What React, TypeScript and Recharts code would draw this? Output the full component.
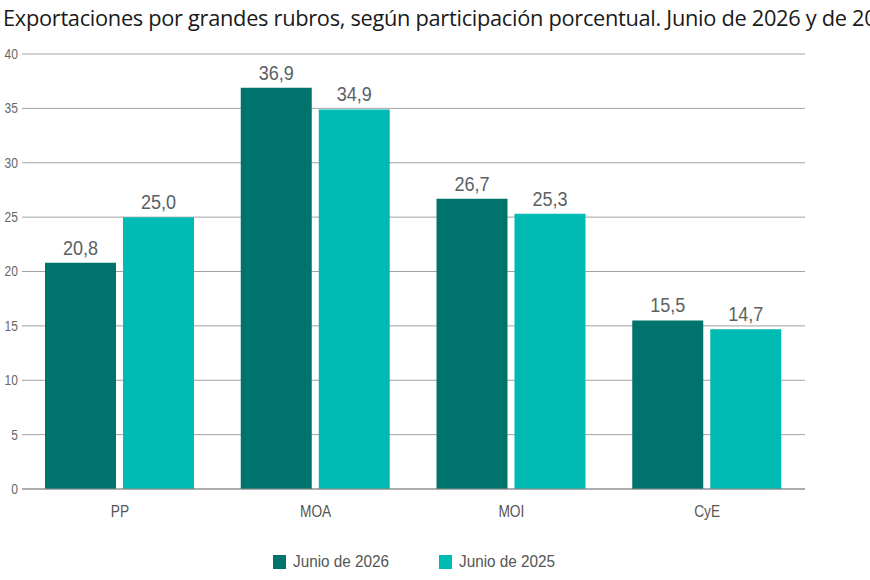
import React from 'react';
import { BarChart, Bar, XAxis, YAxis, CartesianGrid, LabelList } from 'recharts';

const categories = ['PP', 'MOA', 'MOI', 'CyE'];
const junio2026 = [20.8, 36.9, 26.7, 15.5];
const junio2025 = [25.0, 34.9, 25.3, 14.7];
const yTicks = [0, 5, 10, 15, 20, 25, 30, 35, 40];

const SERIES = [
  { key: 'y2026', name: 'Junio de 2026', color: '#00746C' },
  { key: 'y2025', name: 'Junio de 2025', color: '#00BBB4' },
];

const data = categories.map((c, i) => ({ cat: c, y2026: junio2026[i], y2025: junio2025[i] }));

// Arial-Narrow look: Liberation Sans squeezed horizontally
const BASE = "'Liberation Sans', Arial, sans-serif";
const SQUEEZE = 0.86;
const fmt = (v: number) => v.toFixed(1).replace('.', ',');

const NarrowText = ({ x, y, anchor, size, fill, children, dy = 0 }: any) => (
  <text
    x={0}
    y={0}
    dy={dy}
    textAnchor={anchor}
    fontFamily={BASE}
    fontSize={size}
    fill={fill}
    transform={`translate(${x},${y}) scale(${SQUEEZE},1)`}
  >
    {children}
  </text>
);

const YTick = ({ x, y, payload }: any) => (
  <NarrowText x={x} y={y} anchor="end" size={14} fill="#666" dy="0.35em">{payload.value}</NarrowText>
);

const XTick = ({ x, y, payload }: any) => (
  <NarrowText x={x} y={y} anchor="middle" size={16} fill="#555" dy="0.75em">{payload.value}</NarrowText>
);

const ValueLabel = ({ x, y, width, value }: any) => (
  <NarrowText x={x + width / 2} y={y - 8} anchor="middle" size={21} fill="#5a6264">{fmt(value)}</NarrowText>
);

export default function App() {
  return (
    <div style={{ position: 'absolute', left: 0, top: 0, width: 870, height: 580, overflow: 'hidden', background: '#fff' }}>
      <div style={{ position: 'absolute', left: 3, top: 3, whiteSpace: 'nowrap', fontFamily: "'Open Sans', sans-serif", fontSize: 21.8, color: '#1a1a1a', letterSpacing: -0.3 }}>
        Exportaciones por grandes rubros, según participación porcentual. Junio de 2026 y de 2025
      </div>
      <div style={{ position: 'absolute', left: 0, top: 0 }}>
        <BarChart width={870} height={580} data={data} margin={{ top: 54, right: 65, bottom: 61, left: 0 }} barCategoryGap={23} barGap={7}>
          <CartesianGrid vertical={false} stroke="#a3a3a3" strokeWidth={1} />
          <YAxis width={22} domain={[0, 40]} ticks={yTicks} tickLine={false} axisLine={false} tickSize={0} tickMargin={4} tick={<YTick />} />
          <XAxis dataKey="cat" height={30} tickLine={false} axisLine={{ stroke: '#888' }} tickMargin={10} tick={<XTick />} />
          {SERIES.map((s) => (
            <Bar key={s.key} dataKey={s.key} name={s.name} fill={s.color} isAnimationActive={false}>
              <LabelList dataKey={s.key} content={<ValueLabel />} />
            </Bar>
          ))}
        </BarChart>
      </div>
      {SERIES.map((s, i) => (
        <div key={s.key} style={{ position: 'absolute', left: 273 + i * 166, top: 552, display: 'flex', alignItems: 'center', whiteSpace: 'nowrap', fontFamily: BASE, fontSize: 17, color: '#555' }}>
          <span style={{ display: 'inline-block', width: 13, height: 14, background: s.color, marginRight: 7 }} />
          <span style={{ display: 'inline-block', transform: 'scaleX(0.9)', transformOrigin: 'left center' }}>{s.name}</span>
        </div>
      ))}
    </div>
  );
}
